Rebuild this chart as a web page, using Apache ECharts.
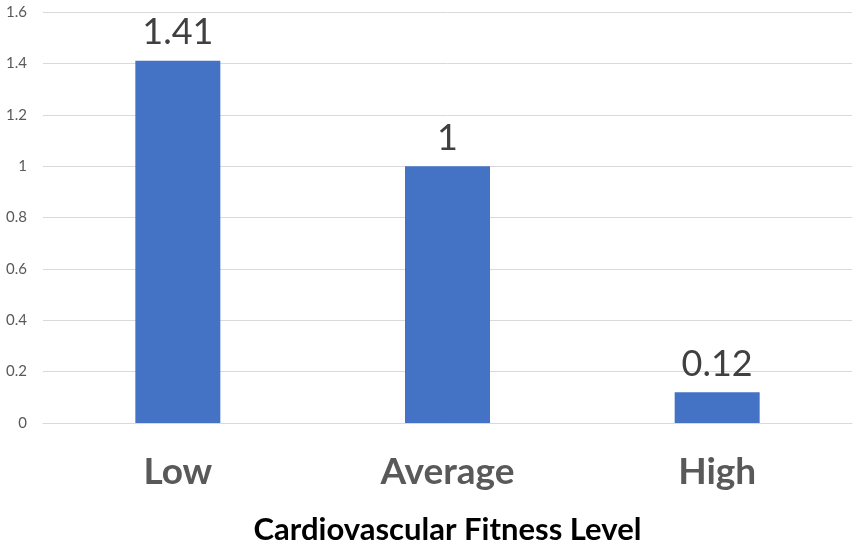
<!DOCTYPE html>
<html><head><meta charset="utf-8">
<script src="https://cdn.jsdelivr.net/npm/echarts@6/dist/echarts.min.js"></script>
<style>html,body{margin:0;padding:0;background:#fff}#c{width:855px;height:546px}</style>
</head><body><div id="c"></div>
<script>
const categories = ['Low', 'Average', 'High'];
const values = [1.41, 1, 0.12];
const axisTitle = 'Cardiovascular Fitness Level';
const yTicks = { min: 0, max: 1.6, interval: 0.2 };

const chart = echarts.init(document.getElementById('c'), null, { renderer: 'canvas' });
chart.setOption({
  animation: false,
  grid: { left: 43, right: 3, top: 12, bottom: 123, containLabel: false, outerBoundsMode: 'none' },
  xAxis: {
    type: 'category', data: categories,
    axisLine: { lineStyle: { color: '#d9d9d9', width: 1 } },
    axisTick: { show: false },
    axisLabel: { color: '#595959', fontFamily: 'Lato', fontWeight: 'bold', fontSize: 37, margin: 31 },
    name: axisTitle, nameLocation: 'middle', nameGap: 91,
    nameTextStyle: { color: '#000', fontFamily: 'Lato', fontWeight: 'bold', fontSize: 31 }
  },
  yAxis: {
    type: 'value', min: yTicks.min, max: yTicks.max, interval: yTicks.interval,
    axisLine: { show: false }, axisTick: { show: false },
    splitLine: { lineStyle: { color: '#d9d9d9', width: 1 } },
    axisLabel: { color: '#595959', fontFamily: 'Lato', fontSize: 15, margin: 16,
      formatter: v => String(+v.toFixed(1)) }
  },
  series: [{
    type: 'bar', data: values, barWidth: 85,
    itemStyle: { color: '#4472C4' },
    label: { show: true, position: 'top', distance: 10, color: '#404040', fontFamily: 'Lato', fontSize: 36,
      formatter: p => String(p.value) }
  }]
});
</script></body></html>
